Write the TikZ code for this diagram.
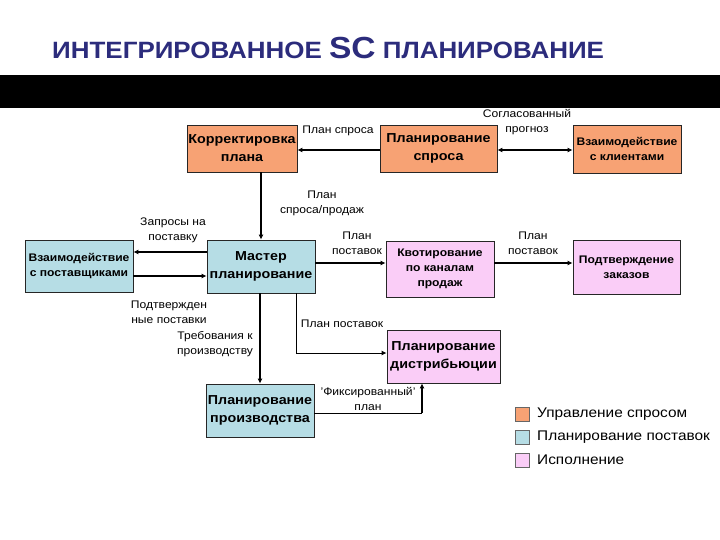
\documentclass[tikz,border=0pt]{standalone}
\usepackage{fontspec}
\setmainfont{Liberation Sans}[FakeStretch=1.1]
\usetikzlibrary{arrows.meta}
\definecolor{dm}{HTML}{F7A274}
\definecolor{sp}{HTML}{B6DDE5}
\definecolor{ex}{HTML}{FACDF7}
\definecolor{ttl}{HTML}{2C2C7C}
\begin{document}
\begin{tikzpicture}[x=1pt,y=-1pt,
  box/.style={draw=black!85, line width=0.8pt, inner sep=0pt, align=center,
    font=\fontsize{13}{18}\selectfont\bfseries},
  sbox/.style={box, font=\fontsize{11}{15}\selectfont\bfseries},
  lbl/.style={font=\fontsize{11}{15}\selectfont, align=center, inner sep=0pt},
  tip/.style={-{Latex[length=5pt,width=5pt]}},
  thk/.style={line width=1.8pt, tip},
  thn/.style={line width=0.9pt},
  leg/.style={draw=black!60, line width=0.5pt, minimum size=14pt, inner sep=0pt},
  legt/.style={font=\fontsize{14}{16}\selectfont, anchor=west, inner sep=0pt}]
\useasboundingbox (0,0) rectangle (720,540);
% title and bar
\node[font=\fontsize{23.6}{28}\selectfont\bfseries, text=ttl, anchor=west, inner sep=0pt] (title) at (52,48)
  {ИНТЕГРИРОВАННОЕ {\fontsize{30.5}{31}\selectfont SC} ПЛАНИРОВАНИЕ};
\fill[black] (0,75) rectangle (720,108);
% boxes
\node[box, fill=dm, minimum width=110pt, minimum height=47pt] (kp) at (242,148.5) {Корректировка\\плана};
\node[box, fill=dm, minimum width=117pt, minimum height=47pt] (ps) at (438.5,148.5) {Планирование\\спроса};
\node[sbox, fill=dm, minimum width=108pt, minimum height=48pt] (vk) at (627,149) {Взаимодействие\\с клиентами};
\node[sbox, fill=sp, minimum width=108pt, minimum height=52pt] (vp) at (79,266) {Взаимодействие\\с поставщиками};
\node[box, fill=sp, minimum width=108pt, minimum height=53pt] (mp) at (261,266.5) {Мастер\\планирование};
\node[sbox, fill=ex, minimum width=108pt, minimum height=56pt] (kv) at (440,269) {Квотирование\\по каналам\\продаж};
\node[sbox, fill=ex, minimum width=107pt, minimum height=54pt] (pz) at (626.5,267) {Подтверждение\\заказов};
\node[box, fill=ex, minimum width=113pt, minimum height=53pt] (pd) at (443.5,356.5) {Планирование\\дистрибьюции};
\node[box, fill=sp, minimum width=108pt, minimum height=53pt] (pp) at (260,410.5) {Планирование\\производства};
% connectors
\draw[thk] (ps.west |- 0,150) -- (kp.east |- 0,150);
\node[lbl] (l1) at (338,131) {План спроса};
\draw[thk, {Latex[length=5pt,width=5pt]}-{Latex[length=5pt,width=5pt]}] (ps.east |- 0,150) -- (vk.west |- 0,150);
\node[lbl] (l2) at (527,122) {Согласованный\\прогноз};
\draw[thk] (kp.south -| mp.north) -- (mp.north);
\node[lbl] (l3) at (322,203) {План\\спроса/продаж};
\draw[thk] (mp.west |- 0,252) -- (vp.east |- 0,252);
\node[lbl] (l4) at (173,230) {Запросы на\\поставку};
\draw[thk] (vp.east |- 0,276) -- (mp.west |- 0,276);
\node[lbl] (l5) at (169,312) {Подтвержден\\ные поставки};
\draw[thk] (mp.east |- 0,263) -- (kv.west |- 0,263);
\node[lbl] (l6) at (357,243) {План\\поставок};
\draw[thk] (kv.east |- 0,263) -- (pz.west |- 0,263);
\node[lbl] (l7) at (533,243) {План\\поставок};
\draw[thn, tip] (296,0 |- mp.south) -- (296,353) -- (pd.west |- 0,353);
\node[lbl] (l8) at (342,324) {План поставок};
\draw[thk] (mp.south -| pp.north) -- (pp.north);
\node[lbl] (l9) at (215,344) {Требования к\\производству};
\draw[thn] (pp.east |- 0,413) -- (422,413);
\draw[thk] (422,413.4) -- (422,0 |- pd.south);
\node[lbl] (l10) at (368,399) {'Фиксированный'\\план};
% legend
\node[leg, fill=dm] (g1) at (522,414) {};
\node[leg, fill=sp] (g2) at (522,437) {};
\node[leg, fill=ex] (g3) at (522,460) {};
\node[legt] (t1) at (537,414) {Управление спросом};
\node[legt] (t2) at (537,437) {Планирование поставок};
\node[legt] (t3) at (537,460) {Исполнение};
\end{tikzpicture}
\end{document}
